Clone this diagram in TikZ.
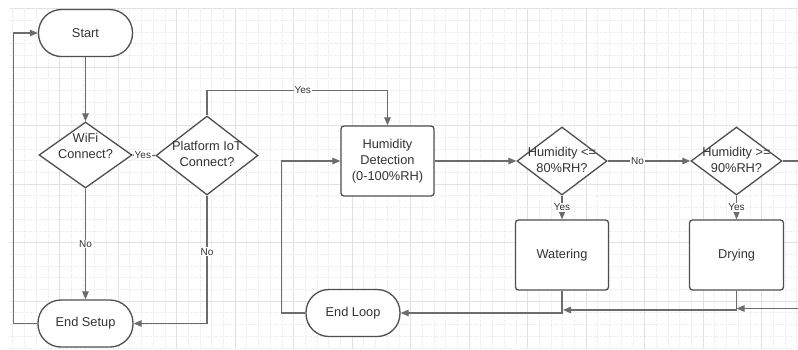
\documentclass[tikz,border=0pt]{standalone}
\usepackage{fontspec}
\setmainfont{Liberation Sans}
\usetikzlibrary{shapes.geometric,arrows.meta,calc}
\definecolor{shapeline}{HTML}{4F4F4F}
\definecolor{connline}{HTML}{6C6C6C}
\definecolor{txtcol}{HTML}{333333}
\definecolor{gridminor}{HTML}{ECECEC}
\definecolor{gridmajor}{HTML}{E2E2E2}
\tikzset{
  base/.style={draw=shapeline, line width=1.3pt, fill=white, text=txtcol,
    font=\fontsize{12.8}{16}\selectfont, align=center, inner sep=0pt},
  term/.style={base, rectangle, rounded corners=23pt, minimum width=94pt, minimum height=47pt},
  procbox/.style={base, rectangle, rounded corners=3pt, minimum width=93pt, minimum height=70pt},
  decision/.style={base, diamond, minimum width=93pt, minimum height=66pt},
  dtext/.style={text=txtcol, font=\fontsize{12.8}{16}\selectfont, align=center, inner sep=0pt},
  conn/.style={draw=connline, line width=1.2pt, -{Triangle[length=8pt,width=6.5pt]}},
  plainconn/.style={draw=connline, line width=1.2pt},
  lbl/.style={fill=white, text=txtcol, font=\fontsize{10}{11}\selectfont, inner sep=1pt},
}
\begin{document}
\begin{tikzpicture}[x=1pt, y=-1pt]
\useasboundingbox (0,0) rectangle (798,349);
\fill[white] (0,0) rectangle (798,349);
% background grid
\begin{scope}
  \clip (10,8.5) rectangle (798,349);
  \foreach \i in {1,...,68} {
    \draw[gridminor, line width=0.6pt, dash pattern=on 1.5pt off 1pt] (1+11.7*\i,0) -- (1+11.7*\i,349);
  }
  \foreach \j in {0,...,29} {
    \draw[gridminor, line width=0.6pt, dash pattern=on 1.5pt off 1pt] (0,8.5+11.7*\j) -- (798,8.5+11.7*\j);
  }
  \foreach \i in {0,...,14} {
    \draw[gridmajor, line width=0.8pt] (1+58.5*\i,0) -- (1+58.5*\i,349);
  }
  \foreach \j in {0,...,6} {
    \draw[gridmajor, line width=0.8pt] (0,8.5+58.5*\j) -- (798,8.5+58.5*\j);
  }
\end{scope}

% setup phase
\node[term] (start) at (85.5,33) {Start};
\node[decision] (wifi) at (85.5,155) {};
\node[dtext] (wifit) at (85.5,146) {WiFi\\Connect?};
\node[decision, minimum width=102pt, minimum height=79pt] (plat) at (207,155.5) {};
\node[dtext] (platt) at (207,154) {Platform IoT\\Connect?};
\node[term, minimum width=95pt] (esetup) at (85.5,323.5) {End Setup};

% loop phase
\node[procbox] (hd) at (387.5,161) {Humidity\\Detection\\(0-100\%RH)};
\node[decision, minimum width=90pt, minimum height=68pt] (d1) at (562,161) {};
\node[dtext] (d1t) at (562,160) {Humidity <=\\80\%RH?};
\node[decision, minimum width=91pt, minimum height=68pt] (d2) at (736.5,161) {};
\node[dtext] (d2t) at (736.5,160) {Humidity >=\\90\%RH?};
\node[procbox] (water) at (562,255) {Watering};
\node[procbox, minimum width=94pt] (dry) at (736.5,255) {Drying};
\node[term] (eloop) at (353,313) {End Loop};

\coordinate (exitR) at (798,161);
\coordinate (inR) at (798,308.5);
\coordinate (wjoin) at (563,310);

% setup connectors
\draw[conn] (start.south) -- (wifi.north);
\draw[conn] (wifi.south) -- node[lbl]{No} (esetup.north);
\draw[plainconn] (wifi.east) -- node[lbl, pos=0.45]{Yes} (plat.west);
\draw[conn] (plat.south) -- node[lbl, pos=0.44]{No} (plat.south |- esetup.east) -- (esetup.east);
\draw[conn] (esetup.west) -- ++(-24,0) |- (start.west);
\draw[conn] (plat.north) -- ++(0,-25) -| node[lbl, pos=0.265]{Yes} (hd.north);

% loop connectors
\draw[conn] (hd.east) -- (d1.west);
\draw[conn] (d1.east) -- node[lbl, pos=0.36]{No} (d2.west);
\draw[plainconn] (d2.east) -- (exitR);
\draw[conn] (d1.south) -- node[lbl]{Yes} (d1.south |- water.north);
\draw[conn] (d2.south) -- node[lbl]{Yes} (d2.south |- dry.north);
\draw[conn] (water.south) |- (eloop.east);
\draw[conn] (dry.south) |- (wjoin);
\draw[conn] (inR) -- (dry.south |- inR);
\draw[conn] (eloop.west) -- ++(-24,0) |- (hd.west);
\end{tikzpicture}
\end{document}
